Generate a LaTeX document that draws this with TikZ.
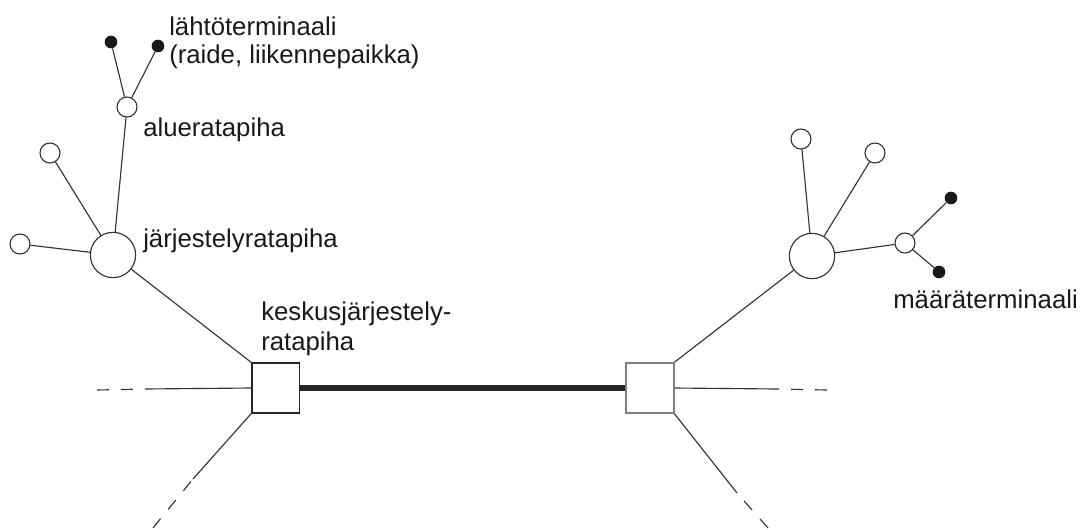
\documentclass[tikz,border=0pt]{standalone}
\usepackage{fontspec}
\setmainfont{Liberation Sans}
\begin{document}
\begin{tikzpicture}[x=0.75pt,y=-0.75pt,
  ln/.style={draw=black!80,line width=0.85pt},
  dsh/.style={ln,dash pattern=on 9pt off 9pt},
  open/.style={circle,draw=black!80,line width=0.85pt,fill=white,inner sep=0pt,minimum size=15pt},
  big/.style={circle,draw=black!80,line width=0.85pt,fill=white,inner sep=0pt,minimum size=34pt},
  dot/.style={circle,fill=black!90,inner sep=0pt,minimum size=9.5pt},
  sq/.style={rectangle,draw,line width=1pt,fill=white,inner sep=0pt,minimum width=35.5pt,minimum height=37.5pt},
  lbl/.style={anchor=base west,inner sep=0pt,text=black!90,font=\fontsize{19.3}{21.5}\selectfont,align=left}]
\useasboundingbox (0,0) rectangle (1085,529);
% left cluster
\node[dot] (d1) at (111,42) {};
\node[dot] (d2) at (158,46) {};
\node[open] (alue) at (127,107) {};
\node[open] (s1) at (50,153) {};
\node[open] (s2) at (20,244) {};
\node[big] (jl) at (113,255) {};
% right cluster
\node[big] (jr) at (812,256) {};
\node[open] (r1) at (801,139) {};
\node[open] (r2) at (875,153) {};
\node[open] (r3) at (905,243) {};
\node[dot] (rd1) at (951,198) {};
\node[dot] (rd2) at (939,272) {};
% squares
\node[sq,draw=black!85] (ka) at (275.5,388) {};
\node[sq,draw=black!50,line width=1.3pt] (kb) at (650,388) {};
% free ends
\coordinate (lhm) at (145,389);
\coordinate (lhe) at (97,390);
\coordinate (llm) at (193,479);
\coordinate (lle) at (153,528);
\coordinate (rhm) at (777,389);
\coordinate (rhe) at (827,390);
\coordinate (rlm) at (737,493);
\coordinate (rle) at (768,528);
% connectors
\draw[ln] (d1) -- (alue);
\draw[ln] (d2) -- (alue);
\draw[ln] (alue) -- (jl);
\draw[ln] (s1) -- (jl);
\draw[ln] (s2) -- (jl);
\draw[ln] (jl) -- (ka.north west);
\draw[ln] (ka.west) -- (lhm);
\draw[dsh] (lhe) -- (lhm);
\draw[ln] (ka.south west) -- (llm);
\draw[dsh] (lle) -- (llm);
\draw[line width=5pt,draw=black!85] (ka.east) -- (kb.west);
\draw[ln] (jr) -- (r1);
\draw[ln] (jr) -- (r2);
\draw[ln] (jr) -- (r3);
\draw[ln] (r3) -- (rd1);
\draw[ln] (r3) -- (rd2);
\draw[ln] (jr) -- (kb.north east);
\draw[ln] (kb.east) -- (rhm);
\draw[dsh] (rhe) -- (rhm);
\draw[ln] (kb.south east) -- (rlm);
\draw[dsh] (rle) -- (rlm);
% labels
\node[lbl] (t1) at (169,35) {lähtöterminaali};
\node[lbl] (t2) at (169,63) {(raide, liikennepaikka)};
\node[lbl] (t3) at (143,136) {alueratapiha};
\node[lbl] (t4) at (143,247) {järjestelyratapiha};
\node[lbl] (t5) at (261,320) {keskusjärjestely-};
\node[lbl] (t6) at (261,350) {ratapiha};
\node[lbl] (t7) at (893,308) {määräterminaali};
\end{tikzpicture}
\end{document}
